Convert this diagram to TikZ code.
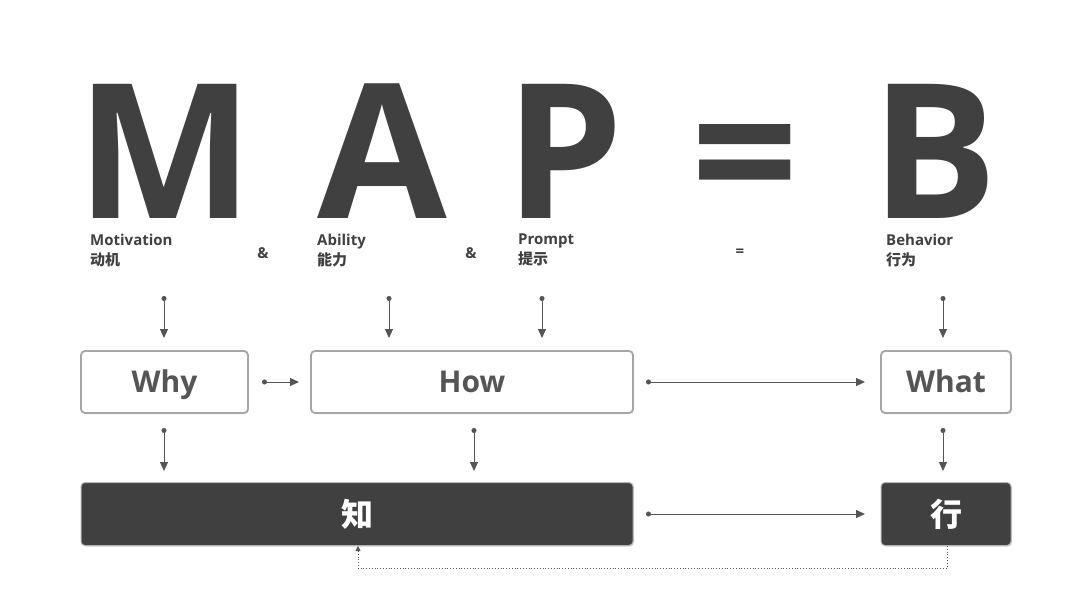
\documentclass[tikz,border=0pt]{standalone}
\usepackage{fontspec}
\setmainfont{Open Sans}
\newfontfamily\cjk{Noto Sans CJK SC}
\usetikzlibrary{arrows.meta,shadows}
\definecolor{dark}{HTML}{404040}
\definecolor{mid}{HTML}{555555}
\tikzset{
  bigletter/.style={text=dark, font=\fontsize{188}{188}\selectfont\bfseries, inner sep=0pt, anchor=base},
  lbl/.style={text=dark, font=\fontsize{15}{20}\selectfont\bfseries, align=left, anchor=north west, inner sep=0pt},
  lightbox/.style={draw=gray!70, line width=1.8pt, fill=white, rounded corners=4pt,
    drop shadow={shadow xshift=1pt, shadow yshift=-1pt, opacity=0.25},
    text=mid, font=\fontsize{30}{30}\selectfont\bfseries, inner sep=0pt,
    text height=22pt, text depth=2pt},
  darkbox/.style={draw=gray!60, line width=1pt, fill=dark, rounded corners=4pt,
    drop shadow={shadow xshift=1pt, shadow yshift=-1pt, opacity=0.3},
    text=white, font=\fontsize{32}{32}\selectfont\cjk\bfseries, inner sep=0pt},
  conn/.style={draw=mid, line width=1pt, {Circle[length=5pt]}-{Triangle[length=9pt,width=8pt]}},
}
\begin{document}
\begin{tikzpicture}[x=1pt,y=-1pt]
\useasboundingbox (0,0) rectangle (1080,608);
% big formula
\node[bigletter] (M) at (165,218) {M};
\node[bigletter] (A) at (382,218) {A};
\node[bigletter] (P) at (565,218) {P};
\node[bigletter] (eq) at (745,218) {=};
\node[bigletter] (B) at (935,218) {B};
% labels
\node[lbl] (mot) at (90,234) {Motivation\\{\cjk 动机}};
\node[lbl] (abi) at (317,234) {Ability\\{\cjk 能力}};
\node[lbl] (pro) at (518,234) {Prompt\\{\cjk 提示}};
\node[lbl] (beh) at (886,234) {Behavior\\{\cjk 行为}};
\node[lbl, anchor=center] (and1) at (263,253) {\&};
\node[lbl, anchor=center] (and2) at (471,253) {\&};
\node[lbl, anchor=center] (eq2) at (740,253) {=};
% boxes
\node[lightbox, minimum width=167pt, minimum height=62pt] (why) at (164.5,382) {Why};
\node[lightbox, minimum width=322pt, minimum height=62pt] (how) at (472,382) {How};
\node[lightbox, minimum width=130pt, minimum height=62pt] (what) at (946,382) {What};
\node[darkbox, minimum width=552pt, minimum height=63pt] (zhi) at (357,514) {知};
\node[darkbox, minimum width=130pt, minimum height=63pt] (xing) at (946,514) {行};
% connectors
\coordinate (d1) at (164,296);
\coordinate (d2) at (389,296);
\coordinate (d3) at (542,296);
\coordinate (d4) at (943,296);
\coordinate (e1) at (164,428);
\coordinate (e2) at (474,428);
\coordinate (e3) at (943,428);
\draw[conn] (d1) -- (164,338);
\draw[conn] (d2) -- (389,338);
\draw[conn] (d3) -- (542,338);
\draw[conn] (d4) -- (943,338);
\draw[conn] (262,382) -- (299,382);
\draw[conn] (646,382) -- (865,382);
\draw[conn] (e1) -- (164,471);
\draw[conn] (e2) -- (474,471);
\draw[conn] (e3) -- (943,471);
\draw[conn] (646,514) -- (865,514);
\draw[draw=mid, dotted, line width=0.8pt, -{Triangle[length=5pt,width=5pt]}]
  (xing.south -| 947,0) -- (947,568) -- (358,568) -- (zhi.south -| 358,0);
\end{tikzpicture}
\end{document}
